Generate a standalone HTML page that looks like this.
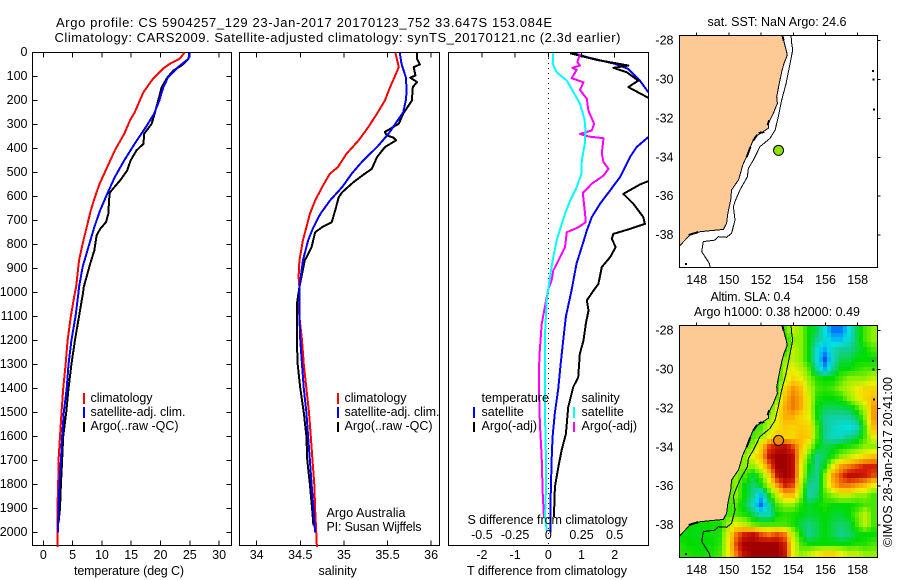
<!DOCTYPE html>
<html lang="en">
<head>
<meta charset="utf-8">
<title>Argo profile CS 5904257_129</title>
<style>
html,body{margin:0;padding:0;background:#fff;width:900px;height:580px;overflow:hidden}
svg{display:block}
text{font-family:"Liberation Sans",Arial,sans-serif;font-size:12.5px;fill:#000}
text.title{font-size:13px}
.crisp{shape-rendering:crispEdges}
</style>
</head>
<body>
<svg id="chart" xmlns="http://www.w3.org/2000/svg" width="900" height="580" viewBox="0 0 900 580">
  <defs>
    <clipPath id="clip-diff"><rect x="448" y="52" width="200" height="494"/></clipPath>
    <clipPath id="clip-map-top"><rect x="679" y="35" width="199" height="232"/></clipPath>
    <clipPath id="clip-map-bottom"><rect x="679" y="325" width="199" height="232"/></clipPath>
  </defs>
  <text class="title" x="56" y="27" textLength="496" lengthAdjust="spacing">Argo profile: CS 5904257_129 23-Jan-2017 20170123_752 33.647S 153.084E</text>
  <text class="title" x="54.5" y="42" textLength="566" lengthAdjust="spacing">Climatology: CARS2009. Satellite-adjusted climatology: synTS_20170121.nc (2.3d earlier)</text>

  <g id="panel-temp"></g>
  <g id="panel-sal"></g>
  <g id="panel-diff"></g>
  <g id="map-top"></g>
  <g id="map-bottom"></g>

  <g>
    <rect class="crisp" x="83" y="393" width="2" height="11" fill="#ff0000"/>
    <rect class="crisp" x="83" y="407" width="2" height="11" fill="#0000ff"/>
    <rect class="crisp" x="83" y="422" width="2" height="10" fill="#000"/>
    <text x="90.5" y="402" textLength="62" lengthAdjust="spacing">climatology</text>
    <text x="90.5" y="416" textLength="95" lengthAdjust="spacing">satellite-adj. clim.</text>
    <text x="90.5" y="430" textLength="88" lengthAdjust="spacing">Argo(..raw -QC)</text>
  </g>
  <g>
    <rect class="crisp" x="337" y="393" width="2" height="11" fill="#ff0000"/>
    <rect class="crisp" x="337" y="407" width="2" height="11" fill="#0000ff"/>
    <rect class="crisp" x="337" y="422" width="2" height="10" fill="#000"/>
    <text x="344.5" y="402" textLength="62" lengthAdjust="spacing">climatology</text>
    <text x="344.5" y="416" textLength="95" lengthAdjust="spacing">satellite-adj. clim.</text>
    <text x="344.5" y="430" textLength="88" lengthAdjust="spacing">Argo(..raw -QC)</text>
    <text x="326.5" y="517" textLength="79" lengthAdjust="spacing">Argo Australia</text>
    <text x="326.5" y="531" textLength="95" lengthAdjust="spacing">PI: Susan Wijffels</text>
  </g>
  <g>
    <text x="481.5" y="402">temperature</text>
    <rect class="crisp" x="473" y="407" width="2" height="11" fill="#0000ff"/>
    <text x="481.5" y="416">satellite</text>
    <rect class="crisp" x="473" y="422" width="2" height="10" fill="#000"/>
    <text x="481.5" y="430">Argo(-adj)</text>
    <text x="581.5" y="402">salinity</text>
    <rect class="crisp" x="573" y="407" width="2" height="11" fill="#00ffff"/>
    <text x="581.5" y="416">satellite</text>
    <rect class="crisp" x="573" y="422" width="2" height="10" fill="#ff00ff"/>
    <text x="581.5" y="430">Argo(-adj)</text>
  </g>

  <text x="74" y="575" textLength="110" lengthAdjust="spacing">temperature (deg C)</text>
  <text x="318.5" y="575">salinity</text>
  <text x="467.5" y="524" textLength="160" lengthAdjust="spacing">S difference from climatology</text>
  <text x="467" y="575" textLength="160" lengthAdjust="spacing">T difference from climatology</text>

  <text x="707.5" y="26" textLength="139" lengthAdjust="spacing">sat. SST: NaN  Argo: 24.6</text>
  <text x="710.5" y="301" textLength="80" lengthAdjust="spacing">Altim. SLA: 0.4</text>
  <text x="694" y="316" textLength="166" lengthAdjust="spacing">Argo h1000: 0.38 h2000: 0.49</text>
  <text transform="translate(892,547) rotate(-90)" textLength="170" lengthAdjust="spacing">©IMOS 28-Jan-2017 20:41:00</text>
</svg>

<script>
// ---------- temperature profiles (depth in m, value in deg C) ----------
const tempClimDepth = [0,26,47,68,110,165,249,283,339,408,505,547,603,658,728,797,867,978,1000,1100,1200,1300,1400,1500,1600,1700,1800,1900,2060];
const tempClimValue = [24.1,23.3,21.6,20.4,18.7,17.1,15.6,14.8,13.8,12.2,10.4,9.6,8.8,8.1,7.4,6.7,6.1,5.6,5.4,4.7,4.15,3.8,3.4,3.1,2.85,2.6,2.55,2.4,2.4];
const tempSatDepth = [0,26,61,103,144,200,255,311,380,450,519,589,658,728,811,894,978,1000,1100,1200,1300,1400,1500,1600,1700,1800,1900,2000];
const tempSatValue = [24.9,24.8,23.0,21.3,20.5,19.8,18.9,17.5,15.6,13.8,12.2,10.9,9.7,8.7,7.7,6.7,6.1,6.0,5.5,4.8,4.3,4.0,3.5,3.2,3.0,2.75,2.6,2.5];
const tempArgoDepth = [0,26,54,75,103,144,200,255,297,339,380,408,450,492,533,582,589,672,707,735,763,825,880,978,1000,1100,1200,1300,1400,1500,1600,1700,1800,1900,1960];
const tempArgoValue = [24.9,24.8,23.6,22.2,21.2,20.2,19.6,19.0,18.5,17.2,17.1,15.9,14.9,14.3,13.1,11.4,11.3,11.1,10.7,9.7,9.1,8.7,8.0,6.9,6.8,6.1,5.4,4.8,4.3,3.9,3.4,3.2,3.0,2.85,2.6];

// ---------- salinity profiles ----------
const salClimDepth = [0,61,103,144,200,255,311,366,422,478,505,561,617,672,728,783,867,936,978,1050,1100,1200,1300,1400,1500,1600,1700,1800,1900,2060];
const salClimValue = [35.59,35.63,35.58,35.53,35.47,35.38,35.28,35.17,35.03,34.93,34.84,34.75,34.67,34.61,34.57,34.53,34.49,34.48,34.49,34.48,34.49,34.52,34.54,34.57,34.6,34.62,34.64,34.66,34.67,34.69];
const salSatDepth = [0,47,103,158,200,249,297,339,394,450,505,561,617,672,728,783,867,978,1100,1200,1300,1400,1500,1600,1700,1800,1900,2000];
const salSatValue = [35.64,35.66,35.71,35.72,35.71,35.68,35.59,35.51,35.38,35.22,35.09,34.98,34.84,34.73,34.65,34.59,34.53,34.49,34.49,34.5,34.52,34.54,34.57,34.59,34.61,34.63,34.65,34.67];
const salArgoDepth = [0,26,50,61,96,105,123,144,200,255,297,331,345,355,366,394,436,485,505,540,582,603,658,707,728,749,811,867,978,1050,1200,1300,1400,1500,1600,1700,1800,1900,1970];
const salArgoValue = [35.84,35.84,35.87,35.8,35.82,35.76,35.84,35.79,35.78,35.68,35.63,35.47,35.49,35.57,35.6,35.47,35.38,35.32,35.24,35.11,34.98,34.94,34.9,34.86,34.75,34.67,34.63,34.55,34.49,34.46,34.46,34.47,34.5,34.54,34.57,34.58,34.61,34.635,34.65];

// ---------- differences from climatology ----------
const diffTSatDepth = [0,19,47,68,117,165,200,280,353,394,436,478,519,575,630,686,742,797,880,992,1100,1200,1300,1400,1500,1600,1700,1800,1900,2000];
const diffTSatValue = [0.7,1.16,2.0,2.4,2.76,3.01,3.4,3.6,3.01,2.66,2.46,2.31,2.16,1.86,1.56,1.31,1.16,1.04,0.85,0.7,0.53,0.45,0.37,0.3,0.2,0.13,0.1,0.08,0.06,0.06];
const diffTArgoDepth = [3,31,54,64,82,117,144,193,325,533,550,589,630,686,714,735,756,776,811,853,894,964,992,1033,1075,1131,1200,1256,1353,1394,1478,1589,1658,1728,1811,1936];
const diffTArgoValue = [0.65,1.46,2.41,1.96,2.36,2.71,2.41,3.07,3.67,3.07,2.76,2.26,2.56,2.86,2.91,2.46,1.96,1.91,2.03,1.86,1.61,1.51,1.36,1.16,1.21,1.13,1.06,0.95,0.9,0.75,0.6,0.53,0.4,0.3,0.2,0.17];
const diffSSatDepth = [3,47,82,117,165,214,276,325,381,450,505,561,617,672,728,783,853,908,985,1033,1172,1408,1547,1686,1825,1936,1992];
const diffSSatValue = [0.038,0.033,0.063,0.139,0.189,0.239,0.272,0.28,0.275,0.252,0.25,0.214,0.164,0.126,0.093,0.063,0.038,0.02,0,-0.012,-0.025,-0.025,-0.023,-0.018,-0.018,-0.025,-0.012];
const diffSArgoDepth = [6,40,54,64,72,107,124,156,193,242,297,325,339,350,357,422,457,485,513,547,586,672,707,728,749,811,853,908,950,985,1020,1131,1270,1408,1547,1686,1825,1936];
const diffSArgoValue = [0.239,0.219,0.239,0.181,0.214,0.176,0.265,0.239,0.29,0.302,0.345,0.327,0.239,0.302,0.416,0.403,0.416,0.453,0.416,0.327,0.26,0.277,0.282,0.227,0.139,0.126,0.088,0.038,0.025,0,-0.012,-0.05,-0.068,-0.07,-0.063,-0.05,-0.043,-0.033];

// ---------- tick labels ----------
const depthTicks = [0,100,200,300,400,500,600,700,800,900,1000,1100,1200,1300,1400,1500,1600,1700,1800,1900,2000];
const tempTicks = [0,5,10,15,20,25,30];
const salTicks = [34,34.5,35,35.5,36];
const diffTTicks = [-2,-1,0,1,2];
const diffSTicks = [-0.5,-0.25,0,0.25,0.5];
const lonTicks = [148,150,152,154,156,158];
const latTicks = [-28,-30,-32,-34,-36,-38];

// ---------- map geometry (lon / lat) ----------
const coastLon = [153.28,153.42,153.55,153.63,153.42,153.28,153.13,152.97,153.01,152.76,152.45,152.45,152.04,151.62,151.42,151.15,150.86,150.69,150.59,150.17,150.11,149.93,149.86,149.66,148.21,147.59,146.92];
const coastLat = [-27.71,-28.05,-28.48,-28.74,-29.17,-29.60,-30.20,-30.88,-31.22,-31.74,-32.25,-32.51,-32.73,-32.94,-33.28,-33.88,-34.40,-34.91,-35.17,-35.68,-36.20,-36.89,-37.40,-37.71,-37.83,-38.00,-38.57];
const isoLon = [153.86,153.90,153.96,153.76,153.55,153.28,153.07,152.87,152.55,151.93,151.52,151.21,151.15,150.69,150.38,150.28,150.38,150.17,149.86,149.35,149.14,148.41,148.31,148.79,148.83];
const isoLat = [-27.71,-28.14,-28.48,-29.34,-30.20,-31.05,-31.91,-32.60,-33.03,-33.45,-34.14,-34.57,-35.00,-35.68,-36.28,-36.54,-37.23,-37.91,-38.12,-38.09,-38.26,-38.34,-38.86,-39.46,-39.66];
const estuaryLon = [[153.35,153.4],[152.5,152.4],[152.2,151.85],[151.75,151.5],[151.35,151.1],[148.1,147.5]];
const estuaryLat = [[-27.8,-28.0],[-32.1,-32.35],[-32.7,-32.75],[-32.85,-33.15],[-33.45,-34.0],[-37.85,-38.0]];
const islandLon = [158.95,158.97,159.02,147.35];
const islandLat = [-29.55,-30.0,-31.55,-39.5];
const argoLon = 153.084;
const argoLat = -33.647;

// ---------- SLA colour levels on a 0.5 degree grid ----------
const L = 4.5; // cells under the land mask
const slaLons = [147,147.5,148,148.5,149,149.5,150,150.5,151,151.5,152,152.5,153,153.5,154,154.5,155,155.5,156,156.5,157,157.5,158,158.5,159];
const slaLats = [-28,-28.5,-29,-29.5,-30,-30.5,-31,-31.5,-32,-32.5,-33,-33.5,-34,-34.5,-35,-35.5,-36,-36.5,-37,-37.5,-38,-38.5,-39,-39.5];
const slaLevels = [
[L,L,L,L,L,L,L,L,L,L,L,L,L,4.5,5.5,5,4,3.5,2,0.7,0.7,2,3.5,4.5,5],
[L,L,L,L,L,L,L,L,L,L,L,L,L,4,5,5,4,3,2.3,1.5,1.5,2.3,3.5,4.5,5],
[L,L,L,L,L,L,L,L,L,L,L,L,L,4,5.5,5,4,2.2,1.2,2.5,3,3,3.5,4,4.5],
[L,L,L,L,L,L,L,L,L,L,L,L,4,5,5.5,5,4,2.2,0.3,2.5,3.5,3.5,4,4,4],
[L,L,L,L,L,L,L,L,L,L,L,L,4,5.5,6,5.5,4.5,2.8,1.3,3,4,4,4.3,4.5,4.5],
[L,L,L,L,L,L,L,L,L,L,L,L,4,5.5,6.5,6,5,4.2,4,4,4.5,5,5,5,5.5],
[L,L,L,L,L,L,L,L,L,L,L,L,4.3,6.5,7.6,7,5.5,4.5,4.3,4.5,5,5.5,6,6.5,6.5],
[L,L,L,L,L,L,L,L,L,L,L,L,4.8,7,8,7.3,5.8,4.2,4,4,4.2,5,5.8,6.5,7],
[L,L,L,L,L,L,L,L,L,L,L,4,5.8,7.3,8,7.3,5.8,4,3.5,3.5,3.5,3.7,4.5,5.5,7.5],
[L,L,L,L,L,L,L,L,L,L,L,5,6,7.2,7.2,6.5,6,4,3,2.8,2.8,2.8,3.5,5,7.5],
[L,L,L,L,L,L,L,L,L,L,4.5,5.5,6.2,6.8,6.6,6.8,6.5,4.5,3,2.5,2.2,2,2.5,4.5,7],
[L,L,L,L,L,L,L,L,L,4.5,5,6,7,6.5,6.5,7,6.7,4.5,3,2.5,2.5,3,3.5,4.5,6],
[L,L,L,L,L,L,L,L,L,5,6.5,8.5,9.3,9.5,8.5,7,5.5,4,3.5,3.7,4,4.2,4.5,5,5],
[L,L,L,L,L,L,L,L,5,6,7,9.3,10,10,9.5,6.5,4.5,3,3.5,4.2,5,5.5,6,6.5,7],
[L,L,L,L,L,L,L,5,5,5,6,8,10,10,9.5,6,4,3,4,6,7.5,8,8.5,9,9],
[L,L,L,L,L,L,L,5,4.5,3.7,4.7,6.5,9.3,10,9.5,6,3.7,3,5,7.5,8.5,9.5,9.5,9.2,8.5],
[L,L,L,L,L,L,L,5,4,3.2,3.8,5.5,7.5,9,8.5,5.5,3,3,5,7,8,8,7.5,7,6],
[L,L,L,L,L,L,4.5,5,4,3,1.5,4,5.5,7,7,5,2.8,3.3,4.5,5,5.5,5.5,5,5,4.5],
[L,L,L,L,L,L,4.5,4.5,3.7,2.4,0.5,2.7,4.5,5,5,4.2,3.7,4,4.2,4,4,4,4.2,4.5,4.5],
[L,L,L,L,L,L,4.5,4.5,4.2,3.5,2.6,2.6,4,4.3,4.2,4,3.7,3.8,4,3.7,3.7,4,4.7,5.5,4.5],
[4,4,4,4,4.1,4.1,5.2,6,5.5,4.8,4.5,4.5,4.5,4.5,4.2,3.5,3.2,3.5,4,3.5,3.3,3.5,4.5,5.5,4.5],
[4,4,3.8,4,4.1,4.2,5.8,8,9,9.5,8.5,8,8.5,8,5.5,4,3,3.5,4,3.5,3,3.3,3.8,4,4],
[4.2,4,4,4,4,4.3,6,8.5,10,10,10,10,10,9,6,4.5,4,4,4,4,4,4,4.2,4.2,4.5],
[4.3,4.2,4.1,4.1,4.2,4.5,6,8,9.5,10,10,10,10,9.3,6,5,5.5,6,6.5,6.5,6,5.5,5.5,5,5]
];

// ---------- axis functions ----------
const NS = 'http://www.w3.org/2000/svg';
const yDepth = d => 52.5 + 0.24 * d;
const xTemp = v => 43.3 + 5.86 * v;
const xSal = v => 256.7 + 87.2 * (v - 34);
const xDiffT = v => 548.3 + 33.2 * v;
const xDiffS = v => 548.3 + 132.8 * v;
const xLon = v => 696.7 + 16.1 * (v - 148);
const yLat = (v, top) => top + 5.7 + 19.43 * (-28 - v);

function svgEl(tag, parent, attrs) {
  const el = document.createElementNS(NS, tag);
  for (const k in attrs) el.setAttribute(k, attrs[k]);
  parent.appendChild(el);
  return el;
}

function drawSeries(parent, depths, values, xf, color, width, name) {
  const pts = depths.map((d, i) => xf(values[i]).toFixed(1) + ',' + yDepth(d).toFixed(1)).join(' ');
  const el = svgEl('polyline', parent, {points: pts, fill: 'none', stroke: color, 'stroke-width': width, 'stroke-linejoin': 'round', class: 'crisp'});
  
  
}

function drawFrame(parent, x, y, w, h) {
  const el = svgEl('rect', parent, {x: x, y: y, width: w, height: h, fill: 'none', stroke: '#000', 'stroke-width': 1, class: 'crisp'});
  
  
}

function drawTick(parent, x1, y1, x2, y2) {
  const el = svgEl('line', parent, {x1: x1, y1: y1, x2: x2, y2: y2, stroke: '#000', 'stroke-width': 1, class: 'crisp'});
  
  
}

function drawLabel(parent, x, y, str, anchor) {
  const el = svgEl('text', parent, {x: x, y: y, 'text-anchor': anchor});
  el.textContent = str;
  
  
}

// ---------- temperature panel ----------
const pTemp = document.getElementById('panel-temp');
drawFrame(pTemp, 32.5, 52.5, 199, 493);
depthTicks.forEach(d => {
  drawTick(pTemp, 32.5, yDepth(d), 37.5, yDepth(d));
  drawTick(pTemp, 226.5, yDepth(d), 231.5, yDepth(d));
  drawLabel(pTemp, 27.5, yDepth(d) + 3.5, d, 'end');
});
tempTicks.forEach(v => {
  drawTick(pTemp, xTemp(v), 52.5, xTemp(v), 57.5);
  drawTick(pTemp, xTemp(v), 540.5, xTemp(v), 545.5);
  drawLabel(pTemp, xTemp(v), 559, v, 'middle');
});
drawSeries(pTemp, tempClimDepth, tempClimValue, xTemp, '#ff0000', 2, 'temperature-climatology-line');
drawSeries(pTemp, tempArgoDepth, tempArgoValue, xTemp, '#000000', 2, 'temperature-argo-line');
drawSeries(pTemp, tempSatDepth, tempSatValue, xTemp, '#0000ff', 2, 'temperature-satellite-line');

// ---------- salinity panel ----------
const pSal = document.getElementById('panel-sal');
drawFrame(pSal, 239.5, 52.5, 200, 493);
salTicks.forEach(v => {
  drawTick(pSal, xSal(v), 52.5, xSal(v), 57.5);
  drawTick(pSal, xSal(v), 540.5, xSal(v), 545.5);
  drawLabel(pSal, xSal(v), 559, v, 'middle');
});
drawSeries(pSal, salClimDepth, salClimValue, xSal, '#ff0000', 2, 'salinity-climatology-line');
drawSeries(pSal, salArgoDepth, salArgoValue, xSal, '#000000', 2, 'salinity-argo-line');
drawSeries(pSal, salSatDepth, salSatValue, xSal, '#0000ff', 2, 'salinity-satellite-line');

// ---------- difference panel ----------
const pDiff = document.getElementById('panel-diff');
const diffClip = svgEl('g', pDiff, {'clip-path': 'url(#clip-diff)'});


const zeroLine = svgEl('line', diffClip, {x1: xDiffT(0), y1: 53, x2: xDiffT(0), y2: 545, stroke: '#000', 'stroke-width': 1, 'stroke-dasharray': '1 4', class: 'crisp'});


drawSeries(diffClip, diffTSatDepth, diffTSatValue, xDiffT, '#0000ff', 2, 't-difference-satellite-line');
drawSeries(diffClip, diffTArgoDepth, diffTArgoValue, xDiffT, '#000000', 2, 't-difference-argo-line');
drawSeries(diffClip, diffSArgoDepth, diffSArgoValue, xDiffS, '#ff00ff', 2, 's-difference-argo-line');
drawSeries(diffClip, diffSSatDepth, diffSSatValue, xDiffS, '#00ffff', 2, 's-difference-satellite-line');
drawFrame(pDiff, 448.5, 52.5, 200, 493);
diffTTicks.forEach(v => {
  drawTick(pDiff, xDiffT(v), 52.5, xDiffT(v), 57.5);
  drawLabel(pDiff, xDiffT(v), 559, v, 'middle');
});
diffSTicks.forEach(v => {
  drawLabel(pDiff, xDiffS(v), 539, v, 'middle');
});

// ---------- colour map for SLA levels ----------
const levelColours = [[0,50,230],[0,150,255],[0,225,225],[20,205,150],[0,220,0],[140,240,0],[235,240,0],[255,190,0],[240,125,0],[215,30,0],[160,0,0]];
function levelColour(v) {
  const c = Math.max(0, Math.min(10, v));
  const i = Math.min(9, Math.floor(c));
  const f = c - i;
  const a = levelColours[i], b = levelColours[i + 1];
  return 'rgb(' + a.map((q, k) => Math.round(q + (b[k] - q) * f)).join(',') + ')';
}

function drawHeat(parent, top) {
  const rows = slaLats.length, cols = slaLons.length;
  const minLon = slaLons[0], maxLon = slaLons[cols - 1];
  const maxLat = slaLats[0], minLat = slaLats[rows - 1];
  for (let j = 0; j < rows * 2 - 1; j++) {
    const fy = j / 2, r0 = Math.floor(fy), r1 = Math.min(rows - 1, r0 + 1), ty = fy - r0;
    for (let i = 0; i < cols * 2 - 1; i++) {
      const fx = i / 2, c0 = Math.floor(fx), c1 = Math.min(cols - 1, c0 + 1), tx = fx - c0;
      const v = (slaLevels[r0][c0] * (1 - tx) + slaLevels[r0][c1] * tx) * (1 - ty) + (slaLevels[r1][c0] * (1 - tx) + slaLevels[r1][c1] * tx) * ty;
      const lon = slaLons[c0] + (slaLons[c1] - slaLons[c0]) * tx;
      const lat = slaLats[r0] + (slaLats[r1] - slaLats[r0]) * ty;
      const lonA = lon <= minLon ? lon - 0.5 : lon - 0.125;
      const lonB = lon >= maxLon ? lon + 0.5 : lon + 0.125;
      const latA = lat >= maxLat ? lat + 0.5 : lat + 0.125;
      const latB = lat <= minLat ? lat - 0.5 : lat - 0.125;
      const x0 = Math.floor(xLon(lonA)), x1 = Math.ceil(xLon(lonB));
      const y0 = Math.floor(yLat(latA, top)), y1 = Math.ceil(yLat(latB, top));
      const cell = svgEl('rect', parent, {x: x0, y: y0, width: x1 - x0, height: y1 - y0, fill: levelColour(v), class: 'crisp'});
      
      
    }
  }
}

function geoLine(parent, lons, lats, top, width, name) {
  const pts = lons.map((lo, i) => xLon(lo).toFixed(1) + ',' + yLat(lats[i], top).toFixed(1)).join(' ');
  const el = svgEl('polyline', parent, {points: pts, fill: 'none', stroke: '#000', 'stroke-width': width, class: 'crisp'});
  
  
}

function drawMap(id, clipId, top, withHeat, markerFill) {
  const root = document.getElementById(id);
  const clip = svgEl('g', root, {'clip-path': 'url(#' + clipId + ')'});
  
  
  if (withHeat) drawHeat(clip, top);
  const landPts = coastLon.map((lo, i) => xLon(lo).toFixed(1) + ',' + yLat(coastLat[i], top).toFixed(1));
  landPts.push('670,' + yLat(coastLat[coastLat.length - 1], top).toFixed(1));
  landPts.push('670,' + (top - 5));
  landPts.push(xLon(coastLon[0]).toFixed(1) + ',' + (top - 5));
  const land = svgEl('polygon', clip, {points: landPts.join(' '), fill: '#fdca96', class: 'crisp'});
  
  
  geoLine(clip, coastLon, coastLat, top, 1, 'coastline');
  geoLine(clip, isoLon, isoLat, top, 1, 'shelf-isobath');
  estuaryLon.forEach((lons, k) => {
    geoLine(clip, lons, estuaryLat[k], top, 2, 'coastal-inlet');
  });
  islandLon.forEach((lo, k) => {
    const isl = svgEl('rect', clip, {x: xLon(lo) - 1, y: yLat(islandLat[k], top) - 1, width: 2, height: 2, fill: '#000', class: 'crisp'});
    
    
  });
  const marker = svgEl('circle', clip, {cx: xLon(argoLon), cy: yLat(argoLat, top), r: 5, fill: markerFill, stroke: '#000', 'stroke-width': 1});
  
  
  drawFrame(root, 679.5, top + 0.5, 198, 232);
  lonTicks.forEach(v => {
    drawTick(root, xLon(v), top - 2.5, xLon(v), top + 0.5);
    drawLabel(root, xLon(v), top + 249, v, 'middle');
  });
  latTicks.forEach(v => {
    drawTick(root, 877.5, yLat(v, top), 880.5, yLat(v, top));
    drawLabel(root, 673.5, yLat(v, top) + 4, v, 'end');
  });
}

drawMap('map-top', 'clip-map-top', 35, false, '#90e000');
drawMap('map-bottom', 'clip-map-bottom', 325, true, '#f09000');
</script>
</body>
</html>
